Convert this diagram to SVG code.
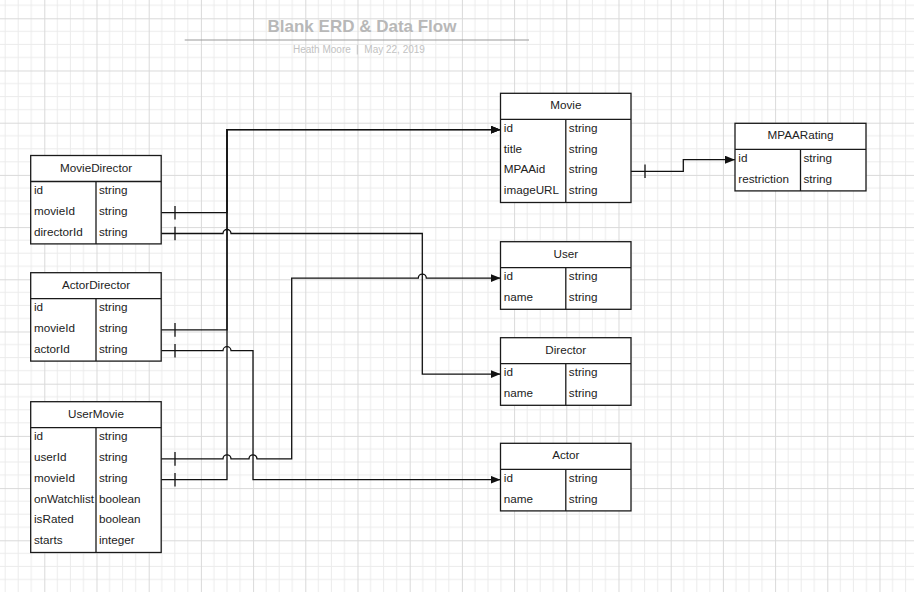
<svg xmlns="http://www.w3.org/2000/svg" width="914" height="592" viewBox="0 0 914 592">
<style>
.tbl rect{fill:#fff;stroke:#1a1a1a;stroke-width:1.3}
.tbl line{stroke:#1a1a1a;stroke-width:1.3}
.tbl text{font-family:"Liberation Sans",Arial,sans-serif;font-size:11.7px;fill:#222}
.tbl .h{text-anchor:middle}
.conn path{fill:none;stroke:#111;stroke-width:1.3}
.conn line{stroke:#111;stroke-width:1.3}
.title{font-family:"Liberation Sans",Arial,sans-serif;font-size:17px;font-weight:bold;fill:#b8b8b8;text-anchor:middle}
.sub{font-family:"Liberation Sans",Arial,sans-serif;font-size:10px;fill:#c2c2c2}
</style>
<defs>
<pattern id="grid" patternUnits="userSpaceOnUse" x="44.3" y="18.3" width="52.2" height="52.2">
<path d="M13.05,0V52.2M26.1,0V52.2M39.15,0V52.2M0,13.05H52.2M0,26.1H52.2M0,39.15H52.2" stroke="#ebebeb" stroke-width="1" fill="none"/>
<path d="M0.5,0V52.2M0,0.5H52.2" stroke="#d9d9d9" stroke-width="1" fill="none"/>
</pattern>
<marker id="arr" markerUnits="userSpaceOnUse" markerWidth="11" markerHeight="8" refX="10" refY="4" orient="auto">
<path d="M0,0L10,4L0,8z" fill="#111"/>
</marker>
</defs>
<rect width="914" height="592" fill="#fff"/>
<rect width="914" height="592" fill="url(#grid)"/>

<g id="title">
<text class="title" x="362" y="31.7">Blank ERD &amp; Data Flow</text>
<line x1="184.7" y1="40" x2="529" y2="40" stroke="#9a9a9a" stroke-width="1.2"/>
<text class="sub" x="293" y="53.3">Heath Moore</text>
<line x1="357.3" y1="45" x2="357.3" y2="54.5" stroke="#c2c2c2" stroke-width="1"/>
<text class="sub" x="364.3" y="53.3">May 22, 2019</text>
</g>

<g id="connectors" class="conn">
<path d="M161.2,212.7H227V129.7H500.5" marker-end="url(#arr)"/>
<path d="M161.2,329.9H227V129.7H500.5" marker-end="url(#arr)"/>
<path d="M161.2,479.7H227V129.7H500.5" marker-end="url(#arr)"/>
<path d="M161.2,233.5H223a4,4 0 0 1 8,0H422.3V374.1H500.5" marker-end="url(#arr)"/>
<path d="M161.2,350.7H223a4,4 0 0 1 8,0H253V479.7H500.5" marker-end="url(#arr)"/>
<path d="M161.2,458.9H223a4,4 0 0 1 8,0H249a4,4 0 0 1 8,0H291.7V278.1H418.3a4,4 0 0 1 8,0H500.5" marker-end="url(#arr)"/>
<path d="M631,171.3H683.3V159.7H735" marker-end="url(#arr)"/>
<line x1="175" y1="205.9" x2="175" y2="219.5"/>
<line x1="175" y1="226.7" x2="175" y2="240.3"/>
<line x1="175" y1="323.1" x2="175" y2="336.7"/>
<line x1="175" y1="343.9" x2="175" y2="357.5"/>
<line x1="175" y1="452.1" x2="175" y2="465.7"/>
<line x1="175" y1="472.9" x2="175" y2="486.5"/>
<line x1="645" y1="164.5" x2="645" y2="178.1"/>
</g>

<g id="MovieDirector" class="tbl">
<rect x="30.7" y="155.5" width="130.5" height="88.4"/>
<line x1="30.7" y1="181.5" x2="161.2" y2="181.5"/>
<line x1="96" y1="181.5" x2="96" y2="243.9"/>
<text class="h" x="96" y="171.5">MovieDirector</text>
<text x="34" y="193.9">id</text><text x="99" y="193.9">string</text>
<text x="34" y="214.7">movieId</text><text x="99" y="214.7">string</text>
<text x="34" y="235.5">directorId</text><text x="99" y="235.5">string</text>
</g>

<g id="ActorDirector" class="tbl">
<rect x="30.7" y="272.7" width="130.5" height="88.4"/>
<line x1="30.7" y1="298.7" x2="161.2" y2="298.7"/>
<line x1="96" y1="298.7" x2="96" y2="361.1"/>
<text class="h" x="96" y="288.7">ActorDirector</text>
<text x="34" y="311.1">id</text><text x="99" y="311.1">string</text>
<text x="34" y="331.9">movieId</text><text x="99" y="331.9">string</text>
<text x="34" y="352.7">actorId</text><text x="99" y="352.7">string</text>
</g>

<g id="UserMovie" class="tbl">
<rect x="30.7" y="401.7" width="130.5" height="150.8"/>
<line x1="30.7" y1="427.7" x2="161.2" y2="427.7"/>
<line x1="96" y1="427.7" x2="96" y2="552.5"/>
<text class="h" x="96" y="417.7">UserMovie</text>
<text x="34" y="440.1">id</text><text x="99" y="440.1">string</text>
<text x="34" y="460.9">userId</text><text x="99" y="460.9">string</text>
<text x="34" y="481.7">movieId</text><text x="99" y="481.7">string</text>
<text x="34" y="502.5">onWatchlist</text><text x="99" y="502.5">boolean</text>
<text x="34" y="523.3">isRated</text><text x="99" y="523.3">boolean</text>
<text x="34" y="544.1">starts</text><text x="99" y="544.1">integer</text>
</g>

<g id="Movie" class="tbl">
<rect x="500.5" y="93.3" width="130.5" height="109.2"/>
<line x1="500.5" y1="119.3" x2="631" y2="119.3"/>
<line x1="565.8" y1="119.3" x2="565.8" y2="202.5"/>
<text class="h" x="565.8" y="109.3">Movie</text>
<text x="503.8" y="131.7">id</text><text x="568.8" y="131.7">string</text>
<text x="503.8" y="152.5">title</text><text x="568.8" y="152.5">string</text>
<text x="503.8" y="173.3">MPAAid</text><text x="568.8" y="173.3">string</text>
<text x="503.8" y="194.1">imageURL</text><text x="568.8" y="194.1">string</text>
</g>

<g id="MPAARating" class="tbl">
<rect x="735" y="123.3" width="131" height="67.6"/>
<line x1="735" y1="149.3" x2="866" y2="149.3"/>
<line x1="800.5" y1="149.3" x2="800.5" y2="190.9"/>
<text class="h" x="800.5" y="139.3">MPAARating</text>
<text x="738.3" y="161.7">id</text><text x="803.5" y="161.7">string</text>
<text x="738.3" y="182.5">restriction</text><text x="803.5" y="182.5">string</text>
</g>

<g id="User" class="tbl">
<rect x="500.5" y="241.7" width="130.5" height="67.6"/>
<line x1="500.5" y1="267.7" x2="631" y2="267.7"/>
<line x1="565.8" y1="267.7" x2="565.8" y2="309.3"/>
<text class="h" x="565.8" y="257.7">User</text>
<text x="503.8" y="280.1">id</text><text x="568.8" y="280.1">string</text>
<text x="503.8" y="300.9">name</text><text x="568.8" y="300.9">string</text>
</g>

<g id="Director" class="tbl">
<rect x="500.5" y="337.7" width="130.5" height="67.6"/>
<line x1="500.5" y1="363.7" x2="631" y2="363.7"/>
<line x1="565.8" y1="363.7" x2="565.8" y2="405.3"/>
<text class="h" x="565.8" y="353.7">Director</text>
<text x="503.8" y="376.1">id</text><text x="568.8" y="376.1">string</text>
<text x="503.8" y="396.9">name</text><text x="568.8" y="396.9">string</text>
</g>

<g id="Actor" class="tbl">
<rect x="500.5" y="443.3" width="130.5" height="67.6"/>
<line x1="500.5" y1="469.3" x2="631" y2="469.3"/>
<line x1="565.8" y1="469.3" x2="565.8" y2="510.9"/>
<text class="h" x="565.8" y="459.3">Actor</text>
<text x="503.8" y="481.7">id</text><text x="568.8" y="481.7">string</text>
<text x="503.8" y="502.5">name</text><text x="568.8" y="502.5">string</text>
</g>
</svg>
